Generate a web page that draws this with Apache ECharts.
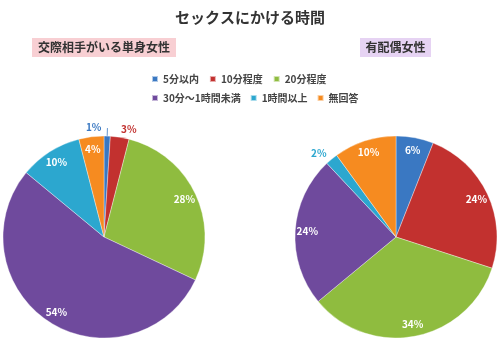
<!DOCTYPE html>
<html><head><meta charset="utf-8">
<script src="https://cdn.jsdelivr.net/npm/echarts@6/dist/echarts.min.js"></script>
<style>html,body{margin:0;padding:0;background:#fff;}#c{width:500px;height:342px;}</style>
</head><body><div id="c"></div>
<script>
const title = 'セックスにかける時間';
const groupNames = ['交際相手がいる単身女性', '有配偶女性'];
const categories = ['5分以内', '10分程度', '20分程度', '30分〜1時間未満', '1時間以上', '無回答'];
const singleWomen = [1, 3, 28, 54, 10, 4];
const marriedWomen = [6, 24, 34, 24, 2, 10];
const colors = ['#3a78c2', '#c2312f', '#8fbc3f', '#6f4a9d', '#2ca7cf', '#f68b20'];

const FONT = '"Noto Sans CJK JP", "Noto Sans", sans-serif';
const R = 101;
const centers = [[104, 237], [396, 237]];
const SMALL = 4;

function sliceSeries(values, center) {
  return {
    type: 'pie', center: center, radius: [0, R], startAngle: 90, clockwise: true,
    avoidLabelOverlap: false, animation: false, minShowLabelAngle: 0,
    itemStyle: { borderColor: 'rgba(255,255,255,0.6)', borderWidth: 0.6 },
    labelLayout: function (p) {
      // the tiniest slice's label is flipped to the left of its leader line
      if (values[p.dataIndex] <= 1) {
        return { dx: -(p.labelRect.width + 6), dy: -1 };
      }
      return {};
    },
    data: categories.map((n, i) => ({
      name: n, value: values[i],
      itemStyle: { color: colors[i] },
      label: {
        show: values[i] < SMALL, position: 'outside', color: colors[i], distanceToLabelLine: 0,
        fontFamily: FONT, fontSize: 10, fontWeight: 'bold', formatter: '{c}%'
      },
      labelLine: { show: values[i] <= 1, length: 8, length2: 0, smooth: 0.3,
        lineStyle: { color: colors[i], width: 0.8 } }
    }))
  };
}
function labelSeries(values, center) {
  return {
    type: 'pie', center: center, radius: [R * 0.7, R], startAngle: 90, clockwise: true,
    silent: true, animation: false, legendHoverLink: false,
    itemStyle: { color: 'transparent' },
    label: { position: 'inside', color: '#fff', fontFamily: FONT, fontSize: 10, fontWeight: 'bold',
      formatter: '{c}%' },
    data: categories.map((n, i) => ({
      name: n + ' ', value: values[i],
      label: { show: values[i] >= SMALL }
    }))
  };
}

const chart = echarts.init(document.getElementById('c'), null, { renderer: 'canvas' });
const legendText = { fontFamily: FONT, fontSize: 10, fontWeight: 'bold', color: '#444' };
chart.setOption({
  backgroundColor: '#fff',
  title: { text: title, left: 'center', top: 5,
    textStyle: { fontFamily: FONT, fontSize: 15, fontWeight: 'bold', color: '#333' } },
  legend: [
    { data: categories.slice(0, 3), left: 151, top: 74, padding: 0, itemWidth: 6, itemHeight: 6, itemGap: 10,
      icon: 'rect', textStyle: legendText },
    { data: categories.slice(3), left: 151, top: 93, padding: 0, itemWidth: 6, itemHeight: 6, itemGap: 9,
      icon: 'rect', textStyle: legendText }
  ],
  graphic: [
    { type: 'rect', shape: { x: 32, y: 38, width: 144, height: 19 }, style: { fill: '#f8cfd3' } },
    { type: 'text', x: 104, y: 47.5, style: { text: groupNames[0], fill: '#333', font: 'bold 12px ' + FONT,
      textAlign: 'center', textVerticalAlign: 'middle' } },
    { type: 'rect', shape: { x: 360, y: 38, width: 71, height: 19 }, style: { fill: '#e6d3f3' } },
    { type: 'text', x: 395.5, y: 47.5, style: { text: groupNames[1], fill: '#333', font: 'bold 12px ' + FONT,
      textAlign: 'center', textVerticalAlign: 'middle' } }
  ],
  series: [
    sliceSeries(singleWomen, centers[0]),
    sliceSeries(marriedWomen, centers[1]),
    labelSeries(singleWomen, centers[0]),
    labelSeries(marriedWomen, centers[1])
  ]
});
</script></body></html>
